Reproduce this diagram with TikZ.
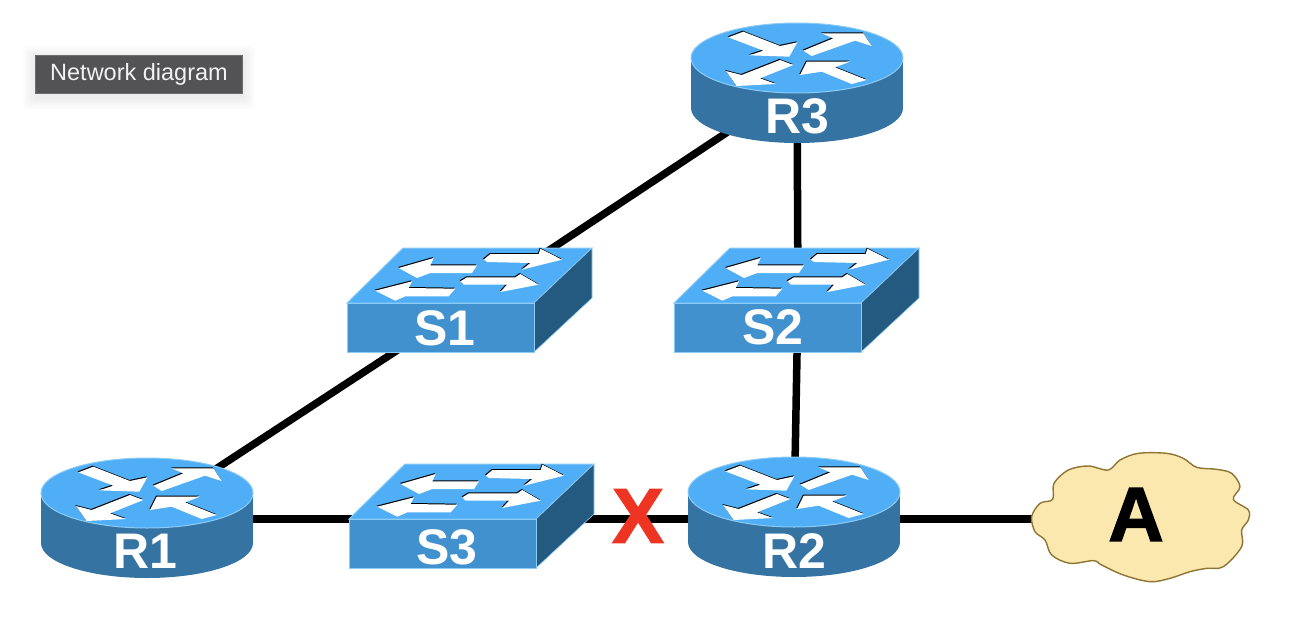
\documentclass[tikz,border=0pt]{standalone}
\usepackage{fontspec}
\setmainfont{Liberation Sans}
\newfontfamily\heavyfont[BoldFeatures={FakeBold=1.6}]{Liberation Sans}
\definecolor{topblue}{HTML}{4FAEF6}
\definecolor{rim}{HTML}{8CCBF5}
\definecolor{rside}{HTML}{3573A3}
\definecolor{sfront}{HTML}{4291CF}
\definecolor{sside}{HTML}{255A80}
\definecolor{cloudfill}{HTML}{FBE8AE}
\definecolor{cloudline}{HTML}{8F7434}
\definecolor{xred}{HTML}{EE3524}
\definecolor{tagfill}{HTML}{535355}
\definecolor{tagline}{HTML}{6E6E70}
\tikzset{
  hub/.style={draw=none,fill=none,inner sep=0pt,outer sep=0pt,minimum width=#1},
  link/.style={draw=black,line width=7.5pt,line cap=round},
  devlabel/.style={text=white,font=\bfseries\fontsize{50}{50}\selectfont,inner sep=0pt},
  zoomunits/.style={x=0.33333pt,y=-0.33333pt},
}
\newcommand{\rshapes}[1]{%
  \fill[#1] (175,82)--(220,65)--(330,108)--(382,97)--(358,140)--(238,136)--(280,122)--cycle;
  \fill[#1] (400,122)--(490,85)--(455,70)--(580,70)--(605,108)--(555,92)--(425,138)--cycle;
  \fill[#1] (168,183)--(215,195)--(330,150)--(370,165)--(270,205)--(318,222)--(200,228)--cycle;
  \fill[#1] (590,210)--(545,222)--(455,185)--(390,195)--(410,155)--(540,155)--(495,172)--cycle;
}
\newcommand{\sshapes}[1]{%
  \fill[#1] (205,100)--(310,70)--(300,92)--(440,92)--(425,115)--(300,115)--(260,130)--cycle;
  \fill[#1] (460,75)--(480,58)--(625,58)--(630,42)--(695,75)--(575,105)--(600,85)--(470,82)--cycle;
  \fill[#1] (135,168)--(245,140)--(235,160)--(375,162)--(355,185)--(225,185)--(195,198)--cycle;
  \fill[#1] (390,140)--(410,128)--(555,128)--(570,118)--(625,150)--(510,172)--(530,150)--(400,150)--cycle;
}
\newcommand{\routerbody}[2]{%
  \begin{scope}[shift={(#1,#2)}]
    \fill[rside] (-106,0) rectangle (106,50);
    \fill[rside] (0,50) ellipse [x radius=106,y radius=35];
    \fill[topblue,draw=rim,line width=1pt] (0,0) ellipse [x radius=106,y radius=35];
    \begin{scope}[zoomunits,shift={(-381,-144)}]
      \begin{scope}[shift={(-2,-3)}]\rshapes{black}\end{scope}
      \rshapes{white}
    \end{scope}
  \end{scope}}
\newcommand{\switchbody}[2]{%
  \begin{scope}[shift={(#1,#2)}]
    \fill[topblue,draw=rim,line width=1pt] (0,0)--(56,-55)--(245,-55)--(187,0)--cycle;
    \fill[sside,draw=rim,line width=.6pt] (187,0)--(245,-55)--(245,-5)--(187,49)--cycle;
    \fill[sfront,draw=rim,line width=1pt] (0,0) rectangle (187,49);
    \begin{scope}[zoomunits,shift={(-50,-205)}]
      \begin{scope}[shift={(-2,-3)}]\sshapes{black}\end{scope}
      \sshapes{white}
    \end{scope}
  \end{scope}}
\begin{document}
\begin{tikzpicture}[x=1pt,y=-1pt]
\useasboundingbox (0,0) rectangle (1300,626);
% invisible anchors of the devices
\node[hub=212pt,minimum height=110pt] (R3) at (797,86) {};
\node[hub=245pt,minimum height=104pt] (S1) at (474,300) {};
\node[hub=245pt,minimum height=104pt] (S2) at (798,300) {};
\node[hub=245pt,minimum height=104pt] (S3) at (471,519) {};
\node[hub=212pt,minimum height=110pt] (R1) at (147,519) {};
\node[hub=212pt,minimum height=110pt] (R2) at (794,519) {};
\node[hub=220pt,minimum height=130pt] (A) at (1140,519) {};
% connectors
\draw[link] (R3.center) -- (S1.center);
\draw[link] (S1.center) -- ([yshift=5pt]R1.center);
\draw[link] (R3.center) -- (S2.center);
\draw[link] (S2.center) -- (R2.center);
\draw[link] (R1.center) -- (S3.center);
\draw[link] (S3.center) -- (R2.center);
\draw[link] (R2.center) -- (A.center);
% devices
\routerbody{797}{58}
\routerbody{147}{493}
\routerbody{794}{492}
\switchbody{347}{303}
\switchbody{674}{303}
\switchbody{349}{519}
\node[devlabel] (R3label) at (797,116) {R3};
\node[devlabel] (S1label) at (445,328) {S1};
\node[devlabel] (S2label) at (773,327) {S2};
\node[devlabel] (S3label) at (447,547) {S3};
\node[devlabel] (R1label) at (145,551) {R1};
\node[devlabel] (R2label) at (794,551) {R2};
% cloud
\begin{scope}[shift={(1010,440)},zoomunits]
  \draw[cloudline,fill=cloudfill,line width=1.4pt] plot[smooth cycle,tension=.55] coordinates {
    (65,230)(90,190)(128,178)(132,130)(175,90)(235,78)(295,90)(330,60)(385,40)(470,40)(520,55)(560,82)
    (620,88)(665,100)(690,140)(670,178)(715,210)(715,240)(695,270)(695,320)(640,380)(590,385)(540,395)
    (480,415)(420,425)(340,405)(275,375)(250,362)(180,370)(125,345)(105,300)(75,275)};
\end{scope}
\node[inner sep=0pt,text=black,font=\heavyfont\bfseries\fontsize{77}{77}\selectfont] (Alabel) at (1136,514.5) {A};
% failure mark
\node[inner sep=0pt,text=xred,font=\heavyfont\bfseries\fontsize{78}{78}\selectfont] (fail) at (638,516) {X};
% tag with soft shadow
\foreach \g in {12,10,8,6,4,2}
  \fill[black,opacity=.012,rounded corners=4pt] (35-\g,58-\g) rectangle (243+\g,97+\g);
\node[draw=tagline,fill=tagfill,line width=1pt,minimum width=207pt,minimum height=38pt,inner sep=0pt,
      text=white!95!black,font=\fontsize{23.5}{23.5}\selectfont] (tag) at (139,74.5) {Network diagram};
\end{tikzpicture}
\end{document}
